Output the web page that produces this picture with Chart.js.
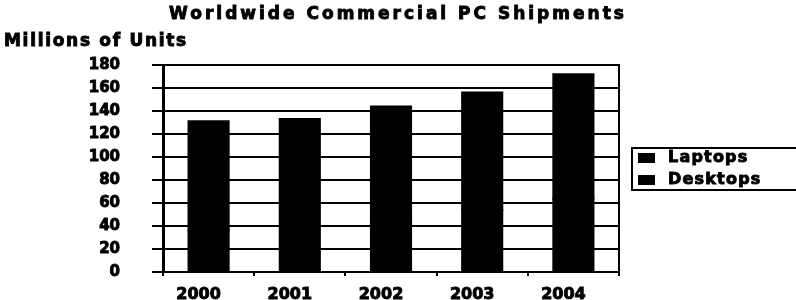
<!DOCTYPE html>
<html>
<head>
<meta charset="utf-8">
<script src="https://cdn.jsdelivr.net/npm/chart.js@4.4.1/dist/chart.umd.min.js"></script>
<style>
  html, body { margin: 0; padding: 0; background: #fff; }
  #wrap { width: 796px; height: 300px; }
</style>
</head>
<body>
<div id="wrap"><canvas id="myChart" width="796" height="300"></canvas></div>
<script>
var chartTitle = 'Worldwide Commercial PC Shipments';
var axisTitle = 'Millions of Units';
var years = ['2000', '2001', '2002', '2003', '2004'];
var laptops = [36, 40, 46, 54, 64];
var desktops = [95, 93, 98, 102, 108];
var yTicks = [0, 20, 40, 60, 80, 100, 120, 140, 160, 180];

var boldFont = '"DejaVu Sans", sans-serif';

// titles and boxed legend drawn by hand (old excel look)
var decor = {
  id: 'decor',
  afterDraw: function(chart) {
    var ctx = chart.ctx;
    ctx.save();
    ctx.fillStyle = '#000';
    ctx.strokeStyle = '#000';
    ctx.textBaseline = 'middle';
    ctx.lineWidth = 0.9;
    ctx.letterSpacing = '3px';
    ctx.font = 'bold 17px ' + boldFont;
    ctx.textAlign = 'center';
    ctx.fillText(chartTitle, 398, 15);
    ctx.strokeText(chartTitle, 398, 15);
    ctx.textAlign = 'left';
    ctx.letterSpacing = '1.7px';
    ctx.fillText(axisTitle, 4, 42);
    ctx.strokeText(axisTitle, 4, 42);

    // legend
    ctx.letterSpacing = '1.2px';
    ctx.font = 'bold 16px ' + boldFont;
    ctx.lineWidth = 2;
    ctx.strokeRect(632, 148, 180, 42);
    ctx.lineWidth = 0.9;
    chart.data.datasets.forEach(function(ds, i) {
      var y = 158 + i * 22;
      ctx.fillStyle = ds.backgroundColor;
      ctx.fillRect(638, y - 5, 17, 10);
      ctx.fillStyle = '#000';
      ctx.fillText(ds.label, 668, y);
      ctx.strokeText(ds.label, 668, y);
    });
    ctx.restore();
  }
};

var ctx = document.getElementById('myChart').getContext('2d');
var myChart = new Chart(ctx, {
  type: 'bar',
  data: {
    labels: years,
    datasets: [{
      label: 'Laptops',
      data: laptops,
      backgroundColor: '#000',
      borderWidth: 0,
      inflateAmount: 1
    }, {
      label: 'Desktops',
      data: desktops,
      backgroundColor: '#000',
      borderWidth: 0,
      inflateAmount: 1
    }]
  },
  options: {
    responsive: false,
    animation: false,
    layout: { padding: { top: 65, right: 177, bottom: 0, left: 0 } },
    datasets: { bar: { categoryPercentage: 1, barPercentage: 0.44 } },
    plugins: {
      legend: { display: false },
      tooltip: { enabled: false }
    },
    scales: {
      x: {
        stacked: true,
        afterFit: function(s) { s.height = 28; s.paddingLeft = 0; s.paddingRight = 0; s.paddingTop = 0; s.paddingBottom = 0; },
        grid: { drawOnChartArea: false, color: '#000', lineWidth: 2, tickLength: 4 },
        border: { color: '#000', width: 2 },
        ticks: {
          color: '#000',
          padding: 9,
          labelOffset: -10,
          maxRotation: 0,
          textStrokeColor: '#000',
          textStrokeWidth: 0.9,
          font: { family: boldFont, weight: 'bold', size: 16 }
        }
      },
      y: {
        stacked: true,
        min: 0,
        max: 180,
        afterFit: function(s) { s.width = 163; s.paddingTop = 0; s.paddingBottom = 0; },
        afterBuildTicks: function(s) { s.ticks = yTicks.map(function(v) { return { value: v }; }); },
        grid: { color: '#000', lineWidth: 2, tickLength: 11 },
        border: { color: '#000', width: 3 },
        ticks: {
          color: '#000',
          padding: 32,
          textStrokeColor: '#000',
          textStrokeWidth: 0.9,
          font: { family: boldFont, weight: 'bold', size: 15 }
        }
      },
      y2: {
        position: 'right',
        min: 0,
        max: 180,
        afterFit: function(s) { s.width = 0; s.paddingTop = 0; s.paddingBottom = 0; },
        grid: { drawOnChartArea: false, drawTicks: false },
        border: { color: '#000', width: 2 },
        ticks: { display: false }
      }
    }
  },
  plugins: [decor]
});
</script>
</body>
</html>
